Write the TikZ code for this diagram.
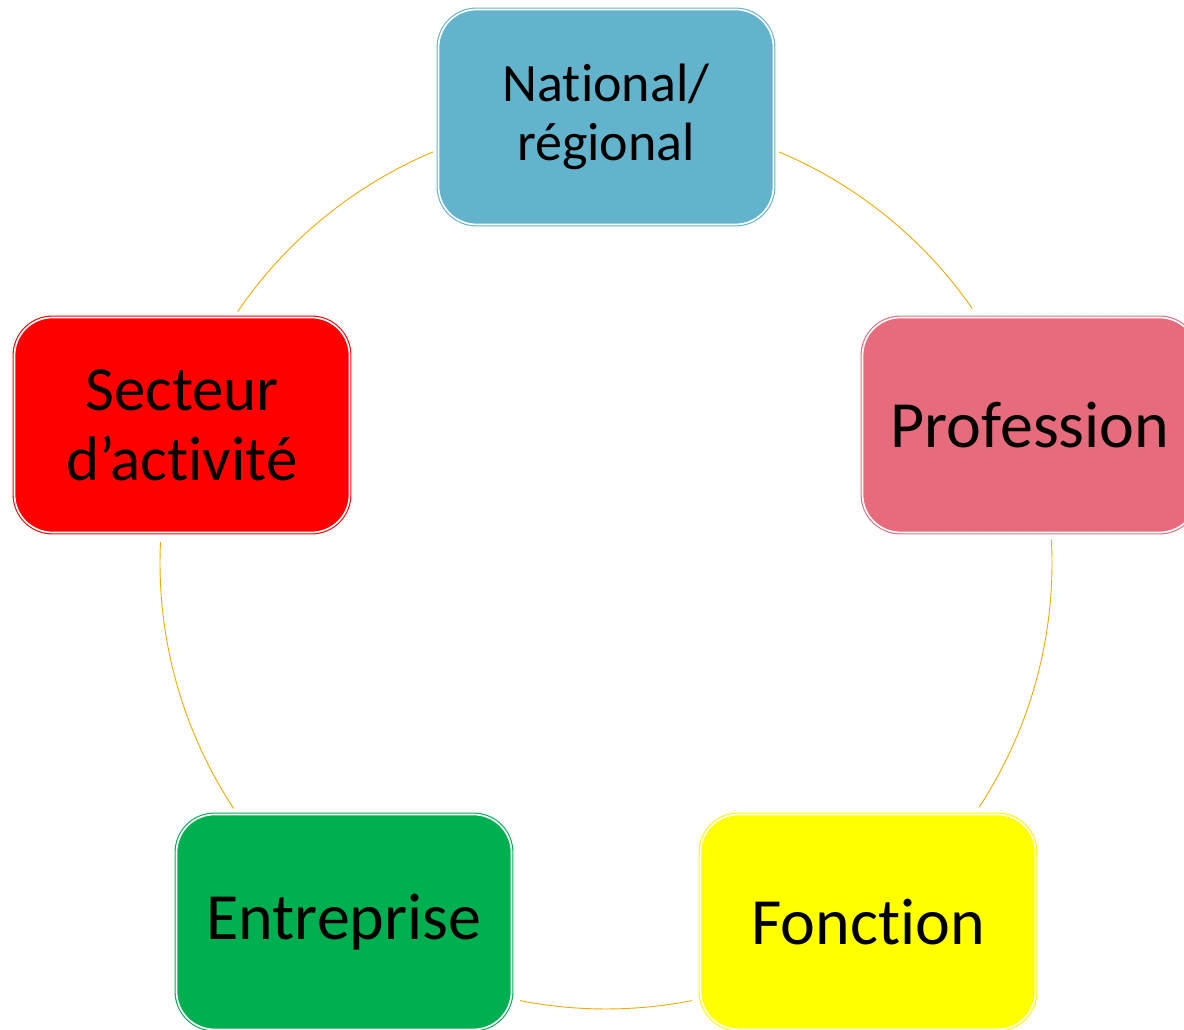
\documentclass[tikz,border=0pt]{standalone}
\usepackage{fontspec}
\setmainfont{Carlito}[Ligatures={NoCommon,NoRequired,NoContextual}]
\definecolor{cTop}{HTML}{62B3CB}
\definecolor{cRight}{HTML}{E66C7D}
\definecolor{cLeft}{HTML}{FF0000}
\definecolor{cGreen}{HTML}{00AF50}
\definecolor{cYellow}{HTML}{FFFF00}
\definecolor{cArc}{HTML}{F2A900}
\begin{document}
\begin{tikzpicture}[x=1pt,y=1pt,
  box/.style={rounded corners=38pt, minimum width=335pt, minimum height=215pt,
    line width=1.1pt, double=white, double distance=1.7pt, align=center,
    text=black, inner sep=0pt},
  bigtxt/.style={font=\fontsize{66}{74}\selectfont},
  midtxt/.style={font=\fontsize{63}{70}\selectfont},
  smalltxt/.style={font=\fontsize{54}{59}\selectfont},
  conn/.style={draw=cArc, line width=0.9pt}]
\useasboundingbox (0,0) rectangle (1184,1030);
\coordinate (C) at (606,467);
\node[box, smalltxt, draw=cTop, fill=cTop] (top) at (606,913) {National/\\régional};
\node[box, bigtxt, draw=cRight, fill=cRight] (right) at (1030,605) {Profession};
\node[box, bigtxt, draw=cYellow, fill=cYellow] (br) at (868,108) {Fonction};
\node[box, bigtxt, draw=cGreen, fill=cGreen] (bl) at (344,108) {Entreprise};
\node[box, midtxt, draw=cLeft, fill=cLeft] (left) at (182,605) {Secteur\\d’activité};
\draw[conn] ([shift={(67.2:446)}]C) arc[start angle=67.2, end angle=34.8, radius=446];
\draw[conn] ([shift={(3:446)}]C) arc[start angle=3, end angle=-33.2, radius=446];
\draw[conn] ([shift={(-78.9:446)}]C) arc[start angle=-78.9, end angle=-101.1, radius=446];
\draw[conn] ([shift={(213.4:446)}]C) arc[start angle=213.4, end angle=177.3, radius=446];
\draw[conn] ([shift={(145.7:446)}]C) arc[start angle=145.7, end angle=112.8, radius=446];
\end{tikzpicture}
\end{document}
